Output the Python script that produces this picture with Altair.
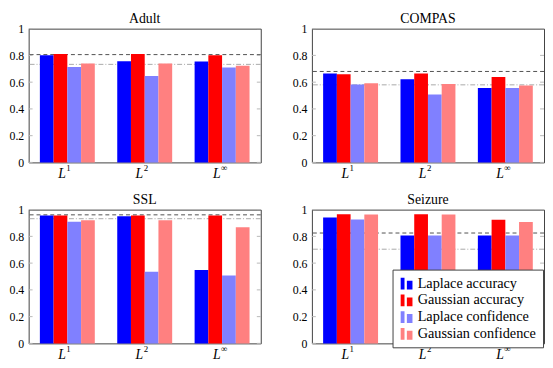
import altair as alt
import pandas as pd

groups = ["L1", "L2", "Linf"]
group_base = ["L", "L", "L"]
group_sup = ["1", "2", "∞"]
series = ["Laplace accuracy", "Gaussian accuracy", "Laplace confidence", "Gaussian confidence"]
colors = ["#0000ff", "#ff0000", "#8080ff", "#ff8080"]
y_ticks = [0, 0.2, 0.4, 0.6, 0.8, 1.0]

# values per series, across groups L1, L2, Linf
adult_laplace_acc = [0.801, 0.757, 0.755]
adult_gauss_acc = [0.811, 0.811, 0.801]
adult_laplace_conf = [0.714, 0.646, 0.709]
adult_gauss_conf = [0.740, 0.740, 0.723]
adult_dashed = 0.806
adult_dashdot = 0.733

compas_laplace_acc = [0.665, 0.621, 0.556]
compas_gauss_acc = [0.660, 0.665, 0.638]
compas_laplace_conf = [0.583, 0.507, 0.556]
compas_gauss_conf = [0.592, 0.587, 0.575]
compas_dashed = 0.680
compas_dashdot = 0.580

ssl_laplace_acc = [0.956, 0.951, 0.549]
ssl_gauss_acc = [0.956, 0.956, 0.956]
ssl_laplace_conf = [0.910, 0.536, 0.507]
ssl_gauss_conf = [0.920, 0.920, 0.869]
ssl_dashed = 0.961
ssl_dashdot = 0.932

seizure_laplace_acc = [0.942, 0.806, 0.806]
seizure_gauss_acc = [0.966, 0.966, 0.925]
seizure_laplace_conf = [0.927, 0.806, 0.806]
seizure_gauss_conf = [0.964, 0.964, 0.908]
seizure_dashed = 0.825
seizure_dashdot = 0.704

SERIF = "'Liberation Serif', 'DejaVu Serif', serif"
W = 236
H = 136
LEGEND_PATH = "M-1,-1H-0.35V1H-1Z M0.05,-0.5H1V1H0.05Z"


def panel(title, lists, dashed, dashdot, legend=None):
    rows = []
    for s, vals in zip(series, lists):
        for g, v in zip(groups, vals):
            rows.append({"group": g, "series": s, "value": v})
    df = pd.DataFrame(rows)
    xscale = alt.Scale(domain=groups, paddingInner=0.29, paddingOuter=0.145)
    yscale = alt.Scale(domain=[0, 1], nice=False, zero=True)
    yaxis = alt.Axis(
        title=None,
        values=y_ticks,
        labelFont=SERIF,
        labelExpr="datum.value == 0 ? '0' : datum.value == 1 ? '1' : format(datum.value, '.1f')",
    )

    dd = alt.Chart(pd.DataFrame({"value": [dashdot]})).mark_rule(
        color="#a8a8a8", strokeDash=[5, 2, 1, 2], strokeWidth=1
    ).encode(y=alt.Y("value:Q", scale=yscale, axis=yaxis))
    ds = alt.Chart(pd.DataFrame({"value": [dashed]})).mark_rule(
        color="#505050", strokeDash=[4, 3], strokeWidth=1
    ).encode(y=alt.Y("value:Q", scale=yscale, axis=yaxis))

    tdf = pd.DataFrame({"value": y_ticks})
    tl = alt.Chart(tdf).mark_rule(color="#b8b8b8").encode(
        y=alt.Y("value:Q", scale=yscale, axis=yaxis), x=alt.value(0), x2=alt.value(4)
    )
    tr = alt.Chart(tdf).mark_rule(color="#b8b8b8").encode(
        y=alt.Y("value:Q", scale=yscale, axis=yaxis), x=alt.value(W - 4), x2=alt.value(W)
    )

    bars = alt.Chart(df).mark_bar().encode(
        x=alt.X("group:N", scale=xscale, axis=None),
        xOffset=alt.XOffset(
            "series:N", sort=series,
            scale=alt.Scale(domain=series, paddingInner=0, paddingOuter=0),
        ),
        y=alt.Y("value:Q", scale=yscale, axis=yaxis),
        color=alt.Color("series:N", scale=alt.Scale(domain=series, range=colors), legend=legend),
    )

    lab_df = pd.DataFrame({"group": groups, "base": group_base, "sup": group_sup})
    lab_l = alt.Chart(lab_df).mark_text(
        font=SERIF, fontStyle="italic", fontSize=14, align="right",
        baseline="alphabetic", dx=-1.5, color="black",
    ).encode(x=alt.X("group:N", scale=xscale, axis=None), y=alt.value(H + 16), text="base:N")
    lab_s = alt.Chart(lab_df).mark_text(
        font=SERIF, fontSize=9, align="left", baseline="alphabetic", dx=-1, color="black",
    ).encode(x=alt.X("group:N", scale=xscale, axis=None), y=alt.value(H + 9), text="sup:N")

    return alt.layer(dd, ds, tl, tr, bars, lab_l, lab_s).properties(
        width=W, height=H,
        title=alt.TitleParams(title, frame="group", offset=-3),
    )


legend_d = alt.Legend(
    orient="none", legendX=W - 154, legendY=H - 75, title=None,
    fillColor="white", strokeColor="#404040", padding=7,
    symbolType=LEGEND_PATH, symbolSize=144, symbolStrokeWidth=0, symbolOpacity=1,
    labelFont=SERIF, labelFontSize=14.5, labelColor="black",
    rowPadding=2, labelOffset=4, cornerRadius=0,
)

pa = panel("Adult", [adult_laplace_acc, adult_gauss_acc, adult_laplace_conf, adult_gauss_conf],
           adult_dashed, adult_dashdot)
pb = panel("COMPAS", [compas_laplace_acc, compas_gauss_acc, compas_laplace_conf, compas_gauss_conf],
           compas_dashed, compas_dashdot)
pc = panel("SSL", [ssl_laplace_acc, ssl_gauss_acc, ssl_laplace_conf, ssl_gauss_conf],
           ssl_dashed, ssl_dashdot)
pd_ = panel("Seizure", [seizure_laplace_acc, seizure_gauss_acc, seizure_laplace_conf, seizure_gauss_conf],
            seizure_dashed, seizure_dashdot, legend=legend_d)

chart = alt.concat(
    pa, pb, pc, pd_, columns=2, spacing={"row": 48, "column": 52}, bounds="flush"
).properties(padding=0).resolve_scale(
    color="independent", y="independent", x="independent"
).resolve_legend(color="independent").configure_view(
    stroke="#404040", strokeWidth=1
).configure_axis(
    labelFont=SERIF, labelFontSize=12, labelColor="black",
    ticks=False, domain=False, grid=False, labelPadding=5,
).configure_title(
    font=SERIF, fontSize=14, fontWeight="normal", color="black", anchor="middle"
)

chart.save("out.html", embed_options={"renderer": "svg", "actions": False})
